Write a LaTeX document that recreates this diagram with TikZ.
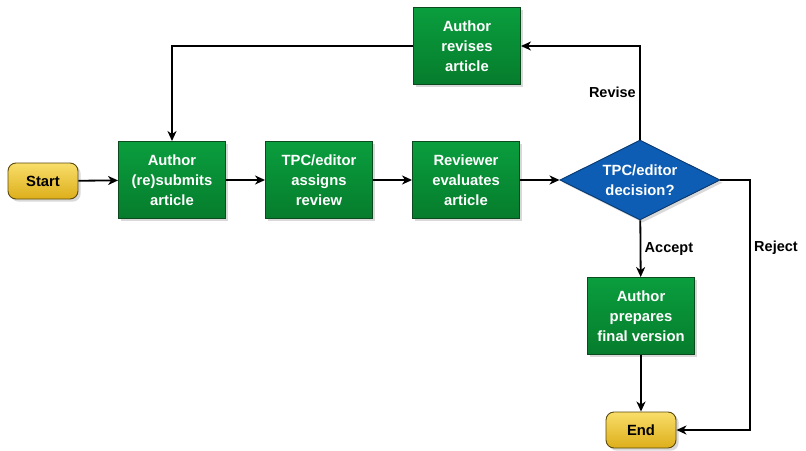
\documentclass[tikz,border=0pt]{standalone}
\usepackage{fontspec}
\setmainfont{Liberation Sans}
\usetikzlibrary{shapes.geometric,shadows,arrows.meta}

\definecolor{boxtop}{HTML}{0A9E3E}
\definecolor{boxbot}{HTML}{067C2C}
\definecolor{boxline}{HTML}{0B4A1E}
\definecolor{termtop}{HTML}{F8DE6A}
\definecolor{termbot}{HTML}{DDAE1A}
\definecolor{termline}{HTML}{5A4A0E}
\definecolor{decfill}{HTML}{0C5DB3}
\definecolor{decline}{HTML}{08386E}

\begin{document}
\begin{tikzpicture}[x=1pt, y=-1pt, >={Stealth[length=10pt,width=9pt,inset=3pt]},
  every stage/.style={draw=boxline, line width=0.9pt, top color=boxtop, bottom color=boxbot,
    minimum width=107pt, minimum height=77pt, align=center, text=white,
    font=\fontsize{14.8}{20}\selectfont\bfseries, drop shadow={opacity=0.3}},
  terminal/.style={draw=termline, line width=0.9pt, rounded corners=8pt, top color=termtop,
    bottom color=termbot, minimum width=70pt, minimum height=36pt,
    font=\fontsize{14.8}{20}\selectfont\bfseries, drop shadow={opacity=0.3}},
  decision/.style={diamond, draw=decline, line width=0.9pt, fill=decfill, aspect=2, inner sep=0pt,
    minimum width=160pt, minimum height=80pt, align=center, text=white,
    font=\fontsize{14.8}{20}\selectfont\bfseries, drop shadow={opacity=0.3}},
  flow/.style={->, line width=1.8pt},
  choice/.style={font=\fontsize{14.5}{16}\selectfont\bfseries}]

\useasboundingbox (0,0) rectangle (806,450);

% terminals
\node [terminal] (start) at (43,181) {Start};
\node [terminal] (end) at (641,430) {End};

% main row
\foreach \t/\n [count=\i] in {{Author\\(re)submits\\article}/submit,
    {TPC/editor\\assigns\\review}/assign, {Reviewer\\evaluates\\article}/review}
  \node [every stage] (\n) at (25+\i*147,180) {\t};

\node [decision] (decide) at (640,180) {TPC/editor\\decision?};
\node [every stage] (revise) at (467,46) {Author\\revises\\article};
\node [every stage] (prepare) at (641,316) {Author\\prepares\\final version};

\coordinate (reject) at (750,180);

\draw [flow] (start) -- (submit);
\draw [flow] (submit) -- (assign);
\draw [flow] (assign) -- (review);
\draw [flow] (review) -- (decide);

\draw [flow] (decide.north) |- (revise)
  node [choice, left, pos=0.25] {Revise};
\draw [flow] (revise) -| (submit);

\draw [flow] (decide) -- (prepare)
  node [choice, right, midway] {Accept};
\draw [flow] (prepare) -- (end);

\draw [flow] (decide.east) -- (reject) |- (end)
  node [choice, right, pos=0.136] {Reject};
\end{tikzpicture}
\end{document}
